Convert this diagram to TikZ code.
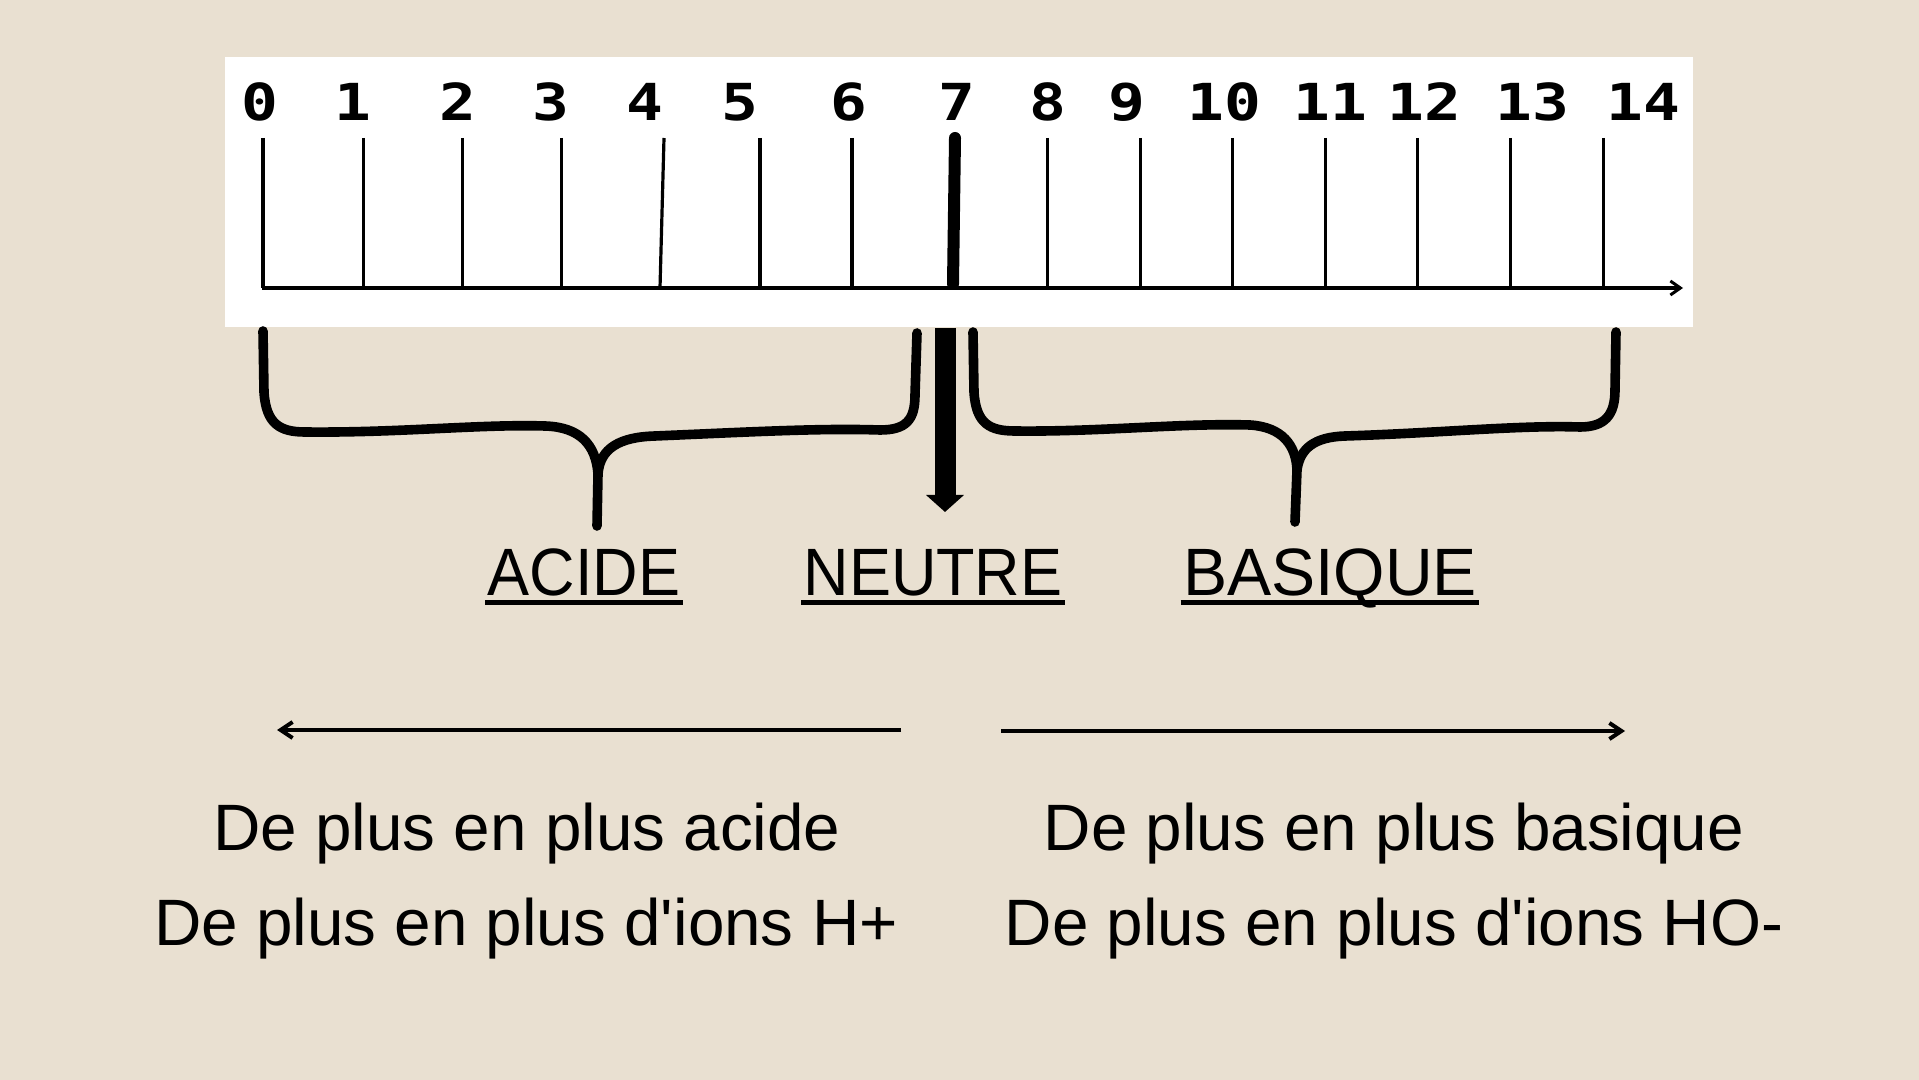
\documentclass[tikz,border=0pt]{standalone}
\usepackage{fontspec}
\setmainfont{Liberation Sans}
\newfontfamily\digitfont{DejaVu Sans Mono}
\usetikzlibrary{arrows.meta,calc}
\definecolor{bg}{RGB}{233,224,209}
\tikzset{
  tickline/.style={line width=1.6pt},
  axisline/.style={line width=1.8pt,-{Straight Barb[length=5pt,width=7pt,line width=1.5pt]}},
  digit/.style={inner sep=0pt,font=\digitfont\bfseries\fontsize{25.5}{30}\selectfont,xscale=1.2},
  brace/.style={line width=4.8pt,line cap=round,line join=round},
  lbl/.style={inner sep=0pt,anchor=base,font=\fontsize{33.5}{38}\selectfont,xscale=0.94},
  uline/.style={line width=2.5pt},
  desc/.style={inner sep=0pt,anchor=base,font=\fontsize{32.8}{38}\selectfont},
  dirarrow/.style={line width=2pt,-{Straight Barb[length=6pt,width=8pt,line width=2pt]}},
  neutarrow/.style={line width=10.5pt,-{Triangle[length=8.5pt,width=18.5pt]}}
}
\begin{document}
\begin{tikzpicture}[x=0.5pt,y=-0.5pt]
\fill[bg] (0,0) rectangle (1919,1080);
\useasboundingbox (0,0) rectangle (1919,1080);
\fill[white] (225,57) rectangle (1693,327);

% ticks
\foreach \n/\x in {0/263,1/363.5,2/462.6,3/561.8,5/760,6/852,8/1047.7,9/1140.7,10/1232.5,11/1325.5,12/1417.3,13/1510.3,14/1603.3}{
  \coordinate (t\n) at (\x,138);
  \coordinate (b\n) at (\x,288);
  \draw[tickline] (t\n) -- (b\n);
}
\coordinate (t4) at (664,138); \coordinate (b4) at (660,288);
\draw[tickline] (t4) -- (b4);
\coordinate (t7) at (955,138); \coordinate (b7) at (953,284);
\draw[line width=6pt,line cap=round] (t7) -- (b7);
% axis
\coordinate (axs) at (262,288); \coordinate (axe) at (1683,288);
\draw[axisline] (axs) -- (axe);

% digits
\foreach \n/\x in {0/260,1/353,2/457.7,3/551,4/645,5/739.5,6/849,7/956.5,8/1047.7,9/1126.5,10/1224,11/1330,12/1424,13/1532,14/1643}{
  \node[digit] (d\n) at (\x,102) {\n};
}

% left brace
\draw[brace] (263,331) -- (264,392) .. controls (266,424) and (280,432) .. (305,432)
  .. controls (400,433) and (480,424) .. (545,426)
  .. controls (580,427) and (596,445) .. (598,474)
  -- (597,526);
\draw[brace] (598,474) .. controls (600,448) and (620,437) .. (655,436)
  .. controls (750,432) and (820,428) .. (880,430)
  .. controls (906,430) and (915,420) .. (915,395)
  -- (917,333);
% right brace
\draw[brace] (973,332) -- (974,392) .. controls (976,424) and (990,431) .. (1015,431)
  .. controls (1100,432) and (1180,423) .. (1250,425)
  .. controls (1282,427) and (1296,445) .. (1297,470)
  -- (1295,522);
\draw[brace] (1297,470) .. controls (1300,448) and (1315,437) .. (1345,436)
  .. controls (1440,433) and (1520,425) .. (1580,427)
  .. controls (1605,427) and (1615,415) .. (1615,390)
  -- (1616,332);

% neutral arrow
\coordinate (nstart) at (945,328);
\coordinate (ntip) at (945,512);
\draw[neutarrow] (nstart) -- (ntip);

% labels
\node[lbl] (acide) at (584,596) {ACIDE};
\node[lbl] (neutre) at (933,596) {NEUTRE};
\node[lbl,xscale=1.05] (basique) at (1330,596) {BASIQUE};
\foreach \l in {acide,neutre,basique}{
  \draw[uline] ($(\l.base west)+(-2,7)$) -- ($(\l.base east)+(2,7)$);
}

% direction arrows
\coordinate (la1) at (901,730); \coordinate (la2) at (277,730);
\draw[dirarrow] (la1) -- (la2);
\coordinate (ra1) at (1001,731); \coordinate (ra2) at (1625,731);
\draw[dirarrow] (ra1) -- (ra2);

% descriptions
\node[desc] (l1) at (527,850) {De plus en plus acide};
\node[desc] (l2) at (526,945) {De plus en plus d\textquotesingle ions H+};
\node[desc] (r1) at (1394,850) {De plus en plus basique};
\node[desc] (r2) at (1394,945) {De plus en plus d\textquotesingle ions HO-};
\end{tikzpicture}
\end{document}
